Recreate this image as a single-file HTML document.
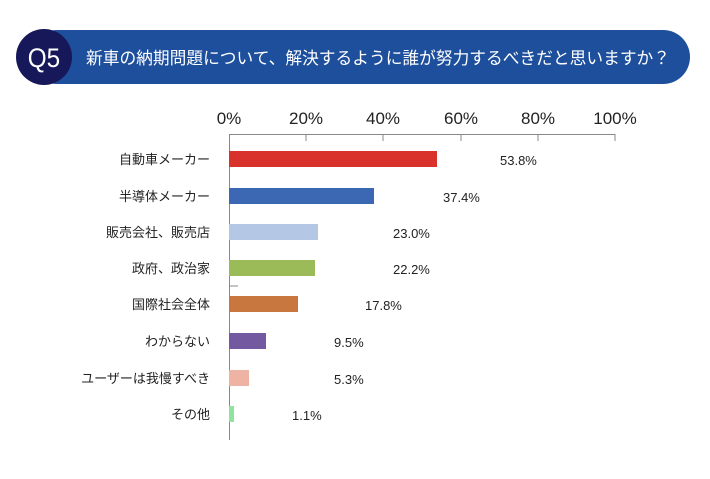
<!DOCTYPE html><html><head><meta charset="utf-8"><style>
body{margin:0;background:#fff;width:710px;height:474px;overflow:hidden;font-family:"Liberation Sans","Noto Sans CJK JP",sans-serif;}
</style></head><body>
<svg width="710" height="474" xmlns="http://www.w3.org/2000/svg" font-family="Liberation Sans, Noto Sans CJK JP, sans-serif">
<rect x="30" y="30" width="660" height="54" rx="27" fill="#1e4f9c"/>
<circle cx="44" cy="57" r="28" fill="#16185a"/>
<text x="44" y="67" fill="#fff" font-size="27" text-anchor="middle" transform="translate(44 0) scale(0.9 1) translate(-44 0)">Q5</text>
<text x="86" y="64" fill="#fff" font-size="17" textLength="584" lengthAdjust="spacingAndGlyphs">新車の納期問題について、解決するように誰が努力するべきだと思いますか？</text>
<g font-size="17" fill="#222" text-anchor="middle">
<text x="229" y="124">0%</text><text x="306" y="124">20%</text><text x="383" y="124">40%</text><text x="461" y="124">60%</text><text x="538" y="124">80%</text><text x="615" y="124">100%</text></g>
<g stroke="#888" stroke-width="1">
<line x1="229" y1="134.5" x2="615" y2="134.5"/>
<line x1="229.5" y1="134" x2="229.5" y2="440"/>
<line x1="306" y1="134" x2="306" y2="141"/><line x1="383" y1="134" x2="383" y2="141"/><line x1="461" y1="134" x2="461" y2="141"/><line x1="538" y1="134" x2="538" y2="141"/><line x1="615" y1="134" x2="615" y2="141"/>
<line x1="229" y1="286" x2="238" y2="286"/>
</g>
<rect x="229" y="151" width="208" height="16" fill="#d9312b"/>
<rect x="229" y="188" width="145" height="16" fill="#3c67b2"/>
<rect x="229" y="224" width="89" height="16" fill="#b4c8e6"/>
<rect x="229" y="260" width="86" height="16" fill="#9bbb59"/>
<rect x="229" y="296" width="69" height="16" fill="#c8773e"/>
<rect x="229" y="333" width="37" height="16" fill="#7259a0"/>
<rect x="229" y="370" width="20" height="16" fill="#eeb3a3"/>
<rect x="229" y="406" width="5" height="16" fill="#8fe3a0"/>
<g font-size="13" fill="#222" text-anchor="end">
<text x="210" y="164">自動車メーカー</text><text x="210" y="201">半導体メーカー</text><text x="210" y="237">販売会社、販売店</text><text x="210" y="273">政府、政治家</text><text x="210" y="309">国際社会全体</text><text x="210" y="346">わからない</text><text x="210" y="383">ユーザーは我慢すべき</text><text x="210" y="419">その他</text></g>
<g font-size="13" fill="#222">
<text x="500" y="165">53.8%</text><text x="443" y="202">37.4%</text><text x="393" y="238">23.0%</text><text x="393" y="274">22.2%</text><text x="365" y="310">17.8%</text><text x="334" y="347">9.5%</text><text x="334" y="384">5.3%</text><text x="292" y="420">1.1%</text></g>
</svg></body></html>
